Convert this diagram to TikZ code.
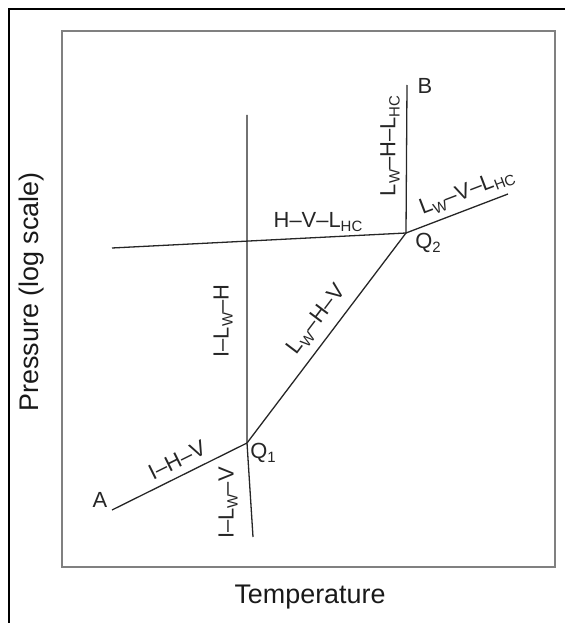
\documentclass[tikz,border=0pt]{standalone}
\usepackage{fontspec}
\setmainfont{Liberation Sans}
\newcommand\sbs[1]{\raisebox{-0.35ex}{\fontsize{15}{15}\selectfont #1}}
\begin{document}
\begin{tikzpicture}[x=1bp,y=-1bp,
  phase/.style={draw=black!85,line width=1.3bp},
  lbl/.style={font=\fontsize{22}{24}\selectfont,inner sep=0pt,text=black!85},
  axlbl/.style={font=\fontsize{27}{30}\selectfont,inner sep=0pt,text=black!90}]
\useasboundingbox (0,0) rectangle (565,623);
\draw[line width=2bp,black] (9,623) -- (9,9) -- (565,9);
\draw[line width=2bp,black!50] (62,31) rectangle (555,567);
% points
\coordinate (A) at (112,510);
\coordinate (Q1) at (247,443);
\coordinate (Q2) at (406,233);
\coordinate (Btop) at (407,85);
\coordinate (Vtop) at (247,115);
\coordinate (Vbot) at (253,537);
\coordinate (Hleft) at (112,248);
\coordinate (Rend) at (508,194);
% lines
\draw[phase] (A) -- (Q1);
\draw[phase] (Vtop) -- (Q1) -- (Vbot);
\draw[phase] (Q1) -- (Q2);
\draw[phase] (Hleft) -- (Q2);
\draw[phase] (Q2) -- (Btop);
\draw[phase] (Q2) -- (Rend);
% point labels
\node[lbl] (lA) at (100,500) {A};
\node[lbl] (lB) at (425,86) {B};
\node[lbl] (lQ1) at (263,453) {Q\sbs{1}};
\node[lbl] (lQ2) at (428,243) {Q\sbs{2}};
% phase labels
\node[lbl,rotate=26.4] (tIHV) at (177,460) {I--H--V};
\node[lbl,rotate=90] (tILWV) at (228,503) {I--L\sbs{W}--V};
\node[lbl,rotate=90] (tILWH) at (223,321) {I--L\sbs{W}--H};
\node[lbl,rotate=52.9] (tLWHV) at (317,320) {L\sbs{W}--H--V};
\node[lbl] (tHVL) at (318,222) {H--V--L\sbs{HC}};
\node[lbl,rotate=90] (tLWHL) at (390,146) {L\sbs{W}--H--L\sbs{HC}};
\node[lbl,rotate=20.9] (tLWVL) at (467,192) {L\sbs{W}--V--L\sbs{HC}};
% axis labels
\node[axlbl] (xlab) at (310,597) {Temperature};
\node[axlbl,rotate=90] (ylab) at (32,292) {Pressure (log scale)};
\end{tikzpicture}
\end{document}
